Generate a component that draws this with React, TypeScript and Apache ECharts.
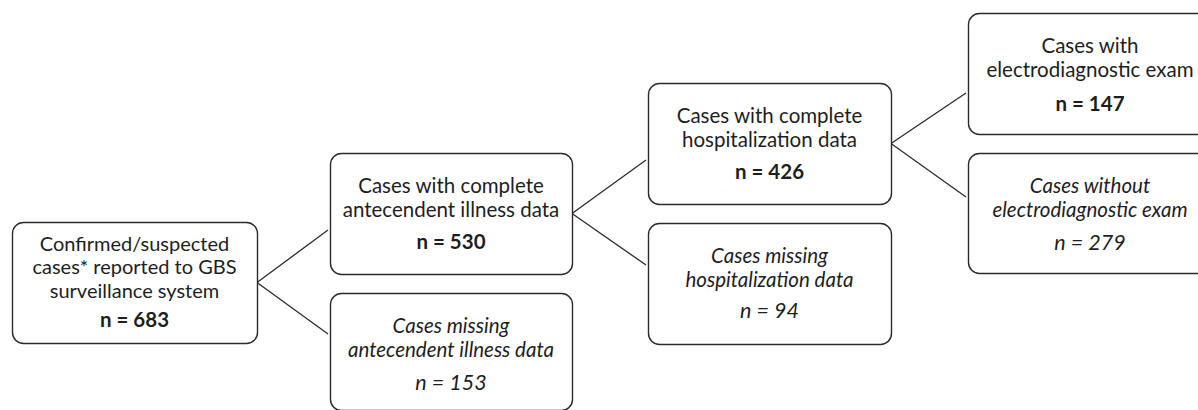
import React, { useEffect, useRef } from "react";
import * as echarts from "echarts";

// Flowchart content
const nodeTitles: string[][] = [
  ["Confirmed/suspected", "cases* reported to GBS", "surveillance system"],
  ["Cases with complete", "antecendent illness data"],
  ["Cases missing", "antecendent illness data"],
  ["Cases with complete", "hospitalization data"],
  ["Cases missing", "hospitalization data"],
  ["Cases with", "electrodiagnostic exam"],
  ["Cases without", "electrodiagnostic exam"],
];
const nodeCounts: number[] = [683, 530, 153, 426, 94, 147, 279];
const nodeMissing: boolean[] = [false, false, true, false, true, false, true];
// parent -> children links
const links: [number, number][] = [
  [0, 1], [0, 2], [1, 3], [1, 4], [3, 5], [3, 6],
];

// Layout (positions / sizes): title block centre offset, line height, count offset
const boxes = [
  { x: 12, y: 222, w: 245, h: 121, tc: 44, lh: 23.5, n: 97, fs: 20 },
  { x: 330, y: 153, w: 242, h: 121, tc: 44, lh: 24.5, n: 88, fs: 20.5 },
  { x: 330, y: 293, w: 242, h: 117, tc: 43.5, lh: 24, n: 89, fs: 20.5 },
  { x: 648, y: 83, w: 243, h: 121, tc: 44, lh: 24.5, n: 88, fs: 20.5 },
  { x: 648, y: 223, w: 243, h: 121, tc: 43.5, lh: 24, n: 87, fs: 20.5 },
  { x: 968, y: 13, w: 244, h: 121, tc: 43.5, lh: 24, n: 90, fs: 20.5 },
  { x: 968, y: 153, w: 244, h: 120, tc: 43.5, lh: 24, n: 89, fs: 20.5 },
];
// y where each link enters the child (absolute)
const linkEndY: number[] = [230, 334, 160, 265, 93, 197];

const FONT = "Lato";
const TEXT_COLOR = "#1e1e1e";
const STROKE = "#2b2b2b";

export default function App() {
  const ref = useRef<HTMLDivElement>(null);
  useEffect(() => {
    if (!ref.current) return;
    const chart = echarts.init(ref.current, null, { renderer: "svg" });
    const elements: any[] = [];
    links.forEach(([p, c], i) => {
      const pb = boxes[p];
      const cb = boxes[c];
      elements.push({
        type: "line",
        shape: { x1: pb.x + pb.w, y1: pb.y + pb.h / 2, x2: cb.x - 2, y2: linkEndY[i] },
        style: { stroke: STROKE, lineWidth: 1.3 },
        silent: true,
      });
    });
    boxes.forEach((b, i) => {
      elements.push({
        type: "rect",
        shape: { x: b.x + 0.5, y: b.y + 0.5, width: b.w, height: b.h, r: 11 },
        style: { fill: "#ffffff", stroke: STROKE, lineWidth: 1.4 },
        silent: true,
      });
      const cx = b.x + b.w / 2;
      const italic = nodeMissing[i];
      elements.push({
        type: "text",
        x: cx,
        y: b.y + b.tc,
        style: {
          text: nodeTitles[i].join("\n"),
          fill: TEXT_COLOR,
          fontFamily: FONT,
          fontSize: b.fs,
          lineHeight: b.lh,
          fontStyle: italic ? "italic" : "normal",
          textAlign: "center",
          textVerticalAlign: "middle",
        },
        silent: true,
      });
      elements.push({
        type: "text",
        x: cx,
        y: b.y + b.n,
        style: {
          text: `n = ${nodeCounts[i]}`,
          fill: TEXT_COLOR,
          fontFamily: FONT,
          fontSize: italic ? 21.5 : 20.5,
          fontWeight: italic ? "normal" : "bold",
          fontStyle: italic ? "italic" : "normal",
          textAlign: "center",
          textVerticalAlign: "middle",
        },
        silent: true,
      });
    });
    chart.setOption({
      animation: false,
      backgroundColor: "#ffffff",
      graphic: { elements },
    });
    return () => chart.dispose();
  }, []);
  return (
    <div
      ref={ref}
      style={{ position: "absolute", left: 0, top: 0, width: 1198, height: 410 }}
    />
  );
}
